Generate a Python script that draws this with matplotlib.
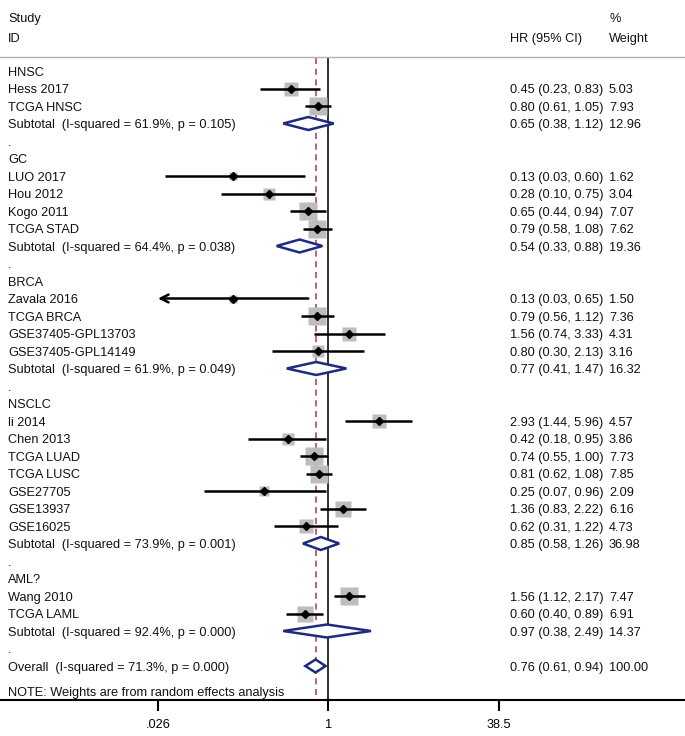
import numpy as np
import matplotlib
matplotlib.use("Agg")
import matplotlib.pyplot as plt
from matplotlib.patches import Polygon
from matplotlib.transforms import blended_transform_factory

# ---------------- data ----------------
groups = ["HNSC", "GC", "BRCA", "NSCLC", "AML?"]
studies = [
    ["Hess 2017", "TCGA HNSC"],
    ["LUO 2017", "Hou 2012", "Kogo 2011", "TCGA STAD"],
    ["Zavala 2016", "TCGA BRCA", "GSE37405-GPL13703", "GSE37405-GPL14149"],
    ["li 2014", "Chen 2013", "TCGA LUAD", "TCGA LUSC", "GSE27705", "GSE13937", "GSE16025"],
    ["Wang 2010", "TCGA LAML"],
]
hr = [
    [0.45, 0.80],
    [0.13, 0.28, 0.65, 0.79],
    [0.13, 0.79, 1.56, 0.80],
    [2.93, 0.42, 0.74, 0.81, 0.25, 1.36, 0.62],
    [1.56, 0.60],
]
ci_low = [
    [0.23, 0.61],
    [0.03, 0.10, 0.44, 0.58],
    [0.0255, 0.56, 0.74, 0.30],
    [1.44, 0.18, 0.55, 0.62, 0.07, 0.83, 0.31],
    [1.12, 0.40],
]
ci_high = [
    [0.83, 1.05],
    [0.60, 0.75, 0.94, 1.08],
    [0.65, 1.12, 3.33, 2.13],
    [5.96, 0.95, 1.00, 1.08, 0.96, 2.22, 1.22],
    [2.17, 0.89],
]
weights = [
    [5.03, 7.93],
    [1.62, 3.04, 7.07, 7.62],
    [1.50, 7.36, 4.31, 3.16],
    [4.57, 3.86, 7.73, 7.85, 2.09, 6.16, 4.73],
    [7.47, 6.91],
]
sub_hr = [0.65, 0.54, 0.77, 0.85, 0.97]
sub_low = [0.38, 0.33, 0.41, 0.58, 0.38]
sub_high = [1.12, 0.88, 1.47, 1.26, 2.49]
sub_weight = [12.96, 19.36, 16.32, 36.98, 14.37]
sub_i2 = [61.9, 64.4, 61.9, 73.9, 92.4]
sub_p = [0.105, 0.038, 0.049, 0.001, 0.000]
overall_hr, overall_low, overall_high = 0.76, 0.61, 0.94
overall_weight = 100.00
overall_i2, overall_p = 71.3, 0.000
xticks = [0.026, 1, 38.5]
xtick_labels = [".026", "1", "38.5"]

# ---------------- layout ----------------
W, H = 685, 736
plt.rcParams["font.family"] = ["Liberation Sans", "DejaVu Sans"]
fig = plt.figure(figsize=(W / 100, H / 100), dpi=100)
axis_y = 700
ax = fig.add_axes([0, (H - axis_y) / H, 1, axis_y / H])
ax.set_xscale("log")
x_one = 328.4
px_per_ln = 46.7
ax.set_xlim(np.exp(-x_one / px_per_ln), np.exp((W - x_one) / px_per_ln))
ax.set_ylim(axis_y, 0)

tx = blended_transform_factory(ax.transAxes, ax.transData)
FS = 9.2
col_study = 8 / W
col_hr = 510 / W
col_w = 609 / W
base_off = 4.6

def txt(x, y, s, **kw):
    ax.text(x, y + base_off, s, transform=tx, fontsize=FS, va="baseline",
            ha="left", color="#111111", **kw)

# header
txt(col_study, 17, "Study")
txt(col_study, 37, "ID")
txt(col_hr, 37, "HR (95% CI)")
txt(col_w, 17, "%")
txt(col_w, 37, "Weight")
ax.axhline(57, color="#B0B0B0", lw=1.0)

row0 = 71
step = 17.5
top_line = 58

ax.vlines(1, top_line, axis_y, color="#303030", lw=1.4, zorder=1)
ax.vlines(overall_hr, top_line, axis_y, color="#A8385A", lw=1.1,
          linestyles=(0, (4, 3)), zorder=1)

sq_px_per_sqrtw = 6.4
diam_half = 6.5
navy = "#1C2A80"

def ci_text(v, l, h):
    return f"{v:.2f} ({l:.2f}, {h:.2f})"

def diamond(y, v, l, h):
    poly = Polygon([(l, y), (v, y - diam_half), (h, y), (v, y + diam_half)],
                   closed=True, facecolor="white", edgecolor=navy, lw=1.8, zorder=4)
    ax.add_patch(poly)

r = 0
for g, grp in enumerate(groups):
    y = row0 + step * r
    txt(col_study, y, grp)
    r += 1
    for k, name in enumerate(studies[g]):
        y = row0 + step * r
        v, l, h, w = hr[g][k], ci_low[g][k], ci_high[g][k], weights[g][k]
        side = sq_px_per_sqrtw * np.sqrt(w)
        ax.plot([v], [y], marker="s", ms=side * 0.72, color="#BDBDBD",
                mec="none", zorder=2)
        if l < xticks[0]:
            ax.annotate("", xy=(xticks[0], y), xytext=(h, y),
                        arrowprops=dict(arrowstyle="->", lw=1.8, color="black",
                                        mutation_scale=14, shrinkA=0, shrinkB=0),
                        zorder=3)
        else:
            ax.plot([l, h], [y, y], color="black", lw=1.8, zorder=3,
                    solid_capstyle="butt")
        ax.plot([v], [y], marker="D", ms=4.2, color="black", zorder=5)
        txt(col_study, y, name)
        txt(col_hr, y, ci_text(v, l, h))
        txt(col_w, y, f"{w:.2f}")
        r += 1
    y = row0 + step * r
    diamond(y, sub_hr[g], sub_low[g], sub_high[g])
    txt(col_study, y, f"Subtotal  (I-squared = {sub_i2[g]:.1f}%, p = {sub_p[g]:.3f})")
    txt(col_hr, y, ci_text(sub_hr[g], sub_low[g], sub_high[g]))
    txt(col_w, y, f"{sub_weight[g]:.2f}")
    r += 1
    y = row0 + step * r
    txt(col_study, y, ".")
    r += 1

y = row0 + step * r
diamond(y, overall_hr, overall_low, overall_high)
txt(col_study, y, f"Overall  (I-squared = {overall_i2:.1f}%, p = {overall_p:.3f})")
txt(col_hr, y, ci_text(overall_hr, overall_low, overall_high))
txt(col_w, y, f"{overall_weight:.2f}")
txt(col_study, 691, "NOTE: Weights are from random effects analysis")

# axes styling
for s in ["top", "left", "right"]:
    ax.spines[s].set_visible(False)
ax.spines["bottom"].set_linewidth(1.5)
ax.set_yticks([])
ax.set_xticks(xticks)
ax.set_xticklabels(xtick_labels, fontsize=FS)
ax.xaxis.set_minor_locator(matplotlib.ticker.NullLocator())
ax.tick_params(axis="x", direction="out", length=8, width=1.5, pad=6)
ax.patch.set_alpha(0)

fig.savefig("out.png", dpi=100)
